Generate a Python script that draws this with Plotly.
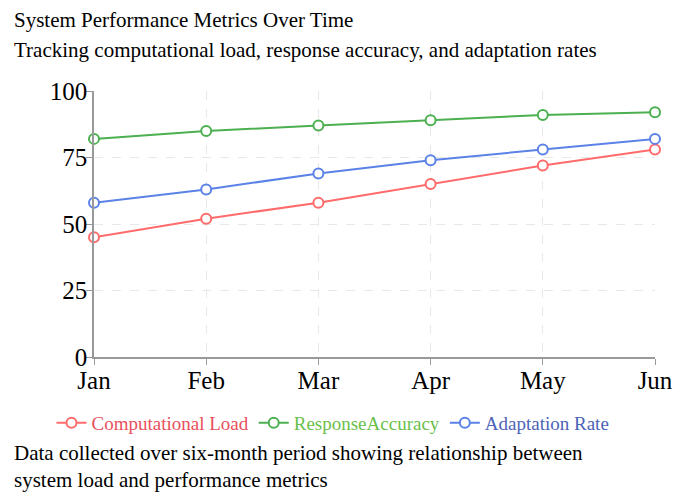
import plotly.graph_objects as go

months = ["Jan", "Feb", "Mar", "Apr", "May", "Jun"]
computational_load = [45, 52, 58, 65, 72, 78]
response_accuracy = [82, 85, 87, 89, 91, 92]
adaptation_rate = [58, 63, 69, 74, 78, 82]
y_ticks = [0, 25, 50, 75, 100]

series = [
    ("Computational Load", computational_load, "#ff6b6b", "#e8505b"),
    ("ResponseAccuracy", response_accuracy, "#4caf50", "#6abf4b"),
    ("Adaptation Rate", adaptation_rate, "#5b82e6", "#4b63b8"),
]

fig = go.Figure()
for name, vals, c, tc in series:
    fig.add_trace(go.Scatter(
        x=months, y=vals, mode="lines+markers",
        name=f'<span style="color:{tc}">{name}</span>',
        line=dict(color=c, width=2),
        marker=dict(symbol="circle", size=10, color="white", line=dict(color=c, width=2)),
        cliponaxis=False,
    ))

font = "Liberation Serif, Times New Roman, serif"
FW, FH = 674, 495
L, T, R, B = 94, 91, 19, 138
H = FH - T - B
W = FW - L - R

def py(pix):
    return (FH - B - pix) / H

def px(pix):
    return (pix - L) / W

fig.update_layout(
    width=FW, height=FH,
    margin=dict(l=L, r=R, t=T, b=B, autoexpand=False),
    paper_bgcolor="white", plot_bgcolor="white",
    font=dict(family=font, size=20, color="black"),
    showlegend=True,
    legend=dict(orientation="h", x=px(333), xanchor="center",
                y=py(423), yanchor="middle",
                font=dict(family=font, size=19), tracegroupgap=0),
    annotations=[
        dict(text="System Performance Metrics Over Time", x=px(12), xref="paper",
             y=py(20), yref="paper", xanchor="left", yanchor="middle", showarrow=False,
             font=dict(family=font, size=21, color="black")),
        dict(text="Tracking computational load, response accuracy, and adaptation rates",
             x=px(12), xref="paper",
             y=py(50), yref="paper", xanchor="left", yanchor="middle", showarrow=False,
             font=dict(family=font, size=21, color="black")),
        dict(text="Data collected over six-month period showing relationship between<br>system load and performance metrics",
             x=px(12), xref="paper", y=py(466), yref="paper",
             xanchor="left", yanchor="middle",
             showarrow=False, align="left", font=dict(family=font, size=21, color="black")),
    ],
)
axis_style = dict(showline=True, linecolor="#999", linewidth=1.5, ticks="outside", ticklen=6,
                  tickcolor="#999", tickwidth=1, showgrid=True, gridcolor="#e8e8e8",
                  griddash="dash", zeroline=False, automargin=False, tickangle=0,
                  ticklabelstandoff=-6,
                  tickfont=dict(family=font, size=25, color="black"))
fig.update_xaxes(range=[0, 5], **axis_style)
fig.update_yaxes(range=[0, 100], tickvals=y_ticks, **axis_style)
fig.write_html("out.html", config={"displayModeBar": False},
               post_script="document.body.style.margin='0';document.body.style.overflow='hidden';")
